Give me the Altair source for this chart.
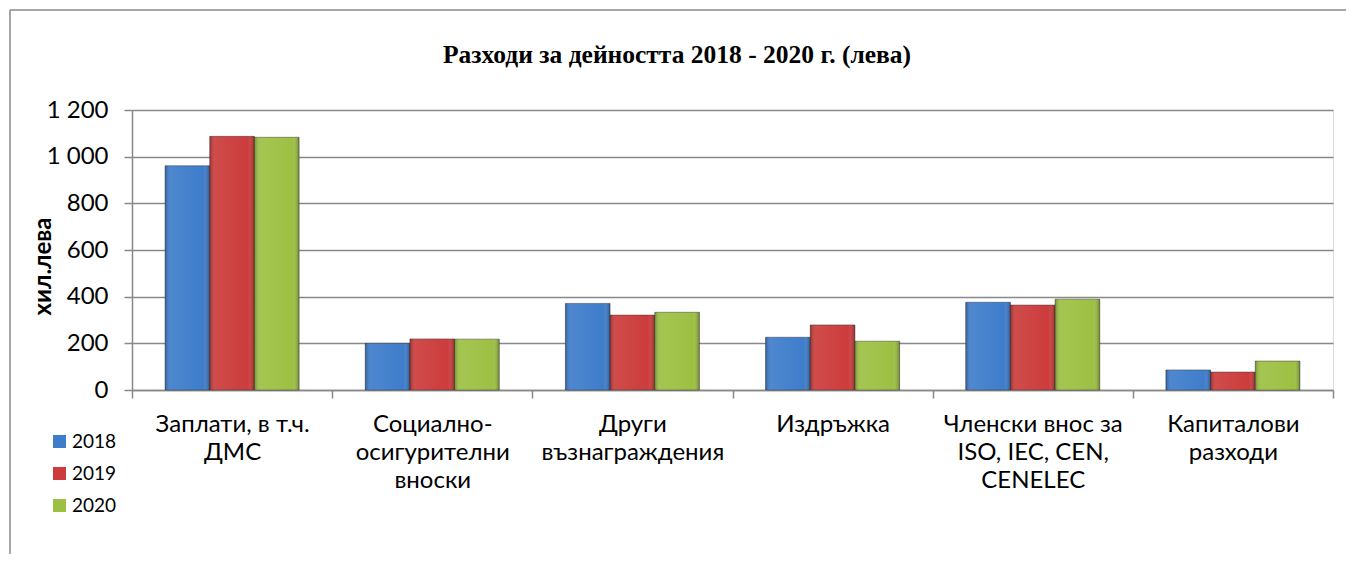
import altair as alt
import pandas as pd

categories = [
    "Заплати, в т.ч.\nДМС",
    "Социално-\nосигурителни\nвноски",
    "Други\nвъзнаграждения",
    "Издръжка",
    "Членски внос за\nISO, IEC, CEN,\nCENELEC",
    "Капиталови\nразходи",
]
years = ["2018", "2019", "2020"]
v2018 = [961, 200, 371, 226, 376, 86]
v2019 = [1087, 219, 321, 279, 364, 77]
v2020 = [1083, 218, 333, 209, 389, 124]
colors = ["#3F7DCB", "#CC3C3C", "#9DC043"]
title_text = "Разходи за дейността 2018 - 2020 г. (лева)"
y_title = "хил.лева"

rows = []
for series, y in zip([v2018, v2019, v2020], years):
    for c, v in zip(categories, series):
        rows.append({"cat": c, "year": y, "value": v})
df = pd.DataFrame(rows)

W, H = 1201, 280
OX, OY = 132, 110  # plot origin on page
FONT = "Lato"

base = alt.Chart(df).encode(
    x=alt.X("cat:N", sort=categories, title=None,
            scale=alt.Scale(paddingInner=0, paddingOuter=0),
            axis=alt.Axis(labelAngle=0, labelExpr="split(datum.label, '\\n')",
                          labelFont=FONT, labelFontSize=24, labelColor="#000",
                          labelLineHeight=28, labelPadding=14, labelBaseline="top",
                          labelLimit=400,
                          tickBand="extent", tickSize=8, tickColor="#888", tickWidth=1.5,
                          domainColor="#888", domainWidth=1.5, grid=False)),
    xOffset=alt.XOffset("year:N", scale=alt.Scale(paddingOuter=0.74, paddingInner=0)),
    y=alt.Y("value:Q", title=y_title,
            scale=alt.Scale(domain=[0, 1200]),
            axis=alt.Axis(values=[0, 200, 400, 600, 800, 1000, 1200],
                          labelExpr="replace(format(datum.value, ','), ',', ' ')",
                          labelFont=FONT, labelFontSize=24, labelColor="#000",
                          labelPadding=16, tickSize=8, tickColor="#888", tickWidth=1.5,
                          domainColor="#888", domainWidth=1.5,
                          gridColor="#888", gridWidth=1.5,
                          titleFont=FONT, titleFontSize=24, titleFontWeight="bold",
                          titleColor="#000", titleX=43 - OX, titleY=266 - OY,
                          titleBaseline="middle", titleAngle=-90)),
)

bars = base.mark_bar(stroke="#333", strokeWidth=0.8, strokeOpacity=0.6).encode(
    color=alt.Color("year:N", scale=alt.Scale(domain=years, range=colors),
                    legend=alt.Legend(title=None, orient="none",
                                      legendX=50 - OX, legendY=432 - OY,
                                      symbolType="square", symbolSize=169,
                                      symbolStrokeWidth=0, labelFont=FONT,
                                      labelFontSize=19, labelColor="#000",
                                      rowPadding=12, padding=0, labelOffset=3))
)

shade = base.mark_bar(
    color=alt.Gradient(
        gradient="linear", x1=0, x2=1, y1=0, y2=0,
        stops=[
            alt.GradientStop(offset=0, color="rgba(0,0,0,0.25)"),
            alt.GradientStop(offset=0.12, color="rgba(255,255,255,0.08)"),
            alt.GradientStop(offset=0.85, color="rgba(255,255,255,0.0)"),
            alt.GradientStop(offset=1, color="rgba(0,0,0,0.3)"),
        ],
    )
)

one = alt.Data(values=[{"t": title_text}])
title = alt.Chart(one).mark_text(
    font="Liberation Serif", fontSize=25.5, fontWeight="bold", color="#000",
    baseline="alphabetic", align="center"
).encode(x=alt.value(677 - OX), y=alt.value(63 - OY), text="t:N")

frame_top = alt.Chart(one).mark_rule(color="#888", strokeWidth=1.5).encode(
    x=alt.value(10 - OX), x2=alt.value(1346 - OX),
    y=alt.value(10 - OY), y2=alt.value(10 - OY))
frame_left = alt.Chart(one).mark_rule(color="#888", strokeWidth=1.5).encode(
    x=alt.value(10 - OX), x2=alt.value(10 - OX),
    y=alt.value(10 - OY), y2=alt.value(554 - OY))

chart = alt.layer(bars, shade, title, frame_top, frame_left).properties(
    width=W, height=H,
    autosize=alt.AutoSizeParams(type="none"),
    padding={"left": OX - 8, "top": OY - 8, "right": 1338 - (OX - 8) - W,
             "bottom": 546 - (OY - 8) - H},
).configure_view(stroke=None).configure(background="white")

chart.save("out.html", embed_options={"renderer": "svg", "actions": False})
